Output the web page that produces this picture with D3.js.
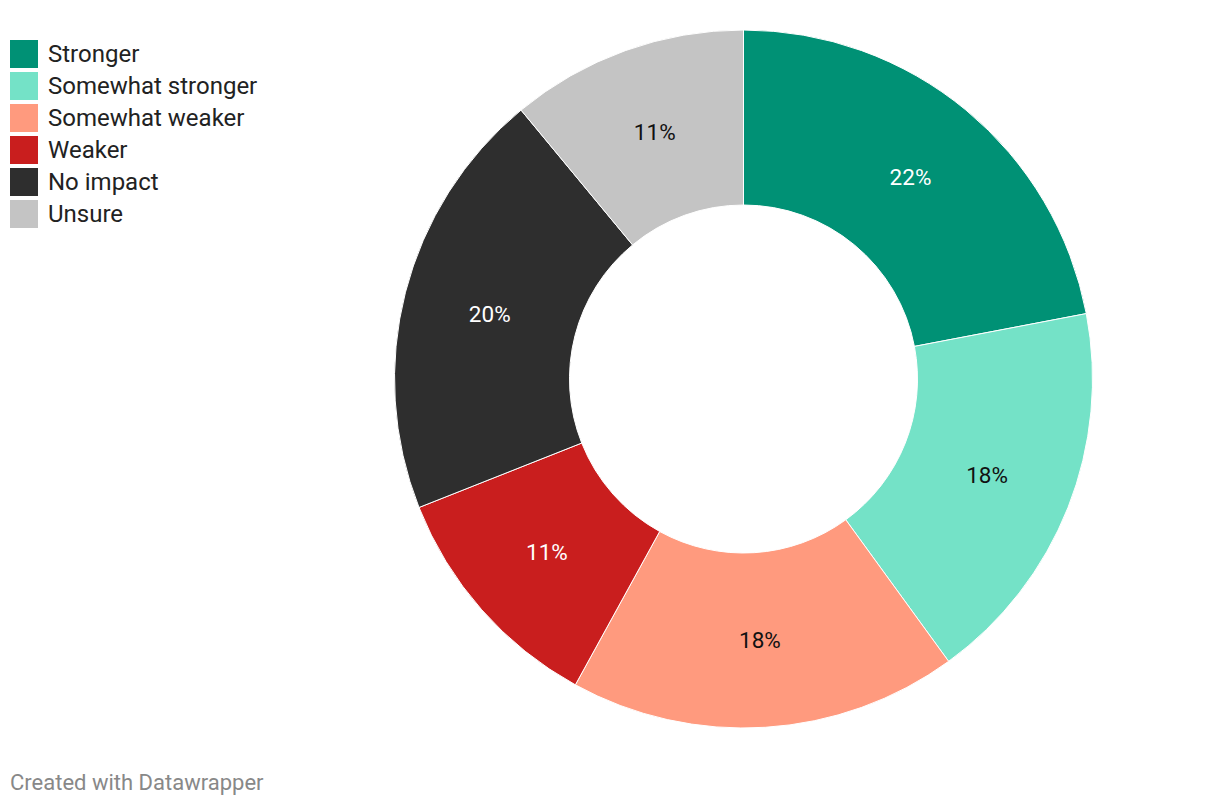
<!DOCTYPE html>
<html><head><meta charset="utf-8">
<script src="https://cdn.jsdelivr.net/npm/d3@7"></script>
<style>body{margin:0;background:#fff;font-family:Roboto,sans-serif;}</style>
</head><body>
<svg id="chart" width="1220" height="806"></svg>
<script>
const categories = ["Stronger","Somewhat stronger","Somewhat weaker","Weaker","No impact","Unsure"];
const values = [22,18,18,11,20,11];
const colors = ["#009175","#74e2c7","#ff9a7e","#c91e1e","#2e2e2e","#c4c4c4"];
const labelColors = ["#fff","#111","#111","#fff","#fff","#111"];

const svg = d3.select("#chart");
const cx = 743.5, cy = 379, rOuter = 349, rInner = 174;
const data = categories.map((c,i)=>({cat:c, value:values[i], i}));
const pie = d3.pie().value(d=>d.value).sort(null);
const arc = d3.arc().innerRadius(rInner).outerRadius(rOuter);
const labelArc = d3.arc().innerRadius(262).outerRadius(262);
const g = svg.append("g").attr("transform",`translate(${cx},${cy})`);
const arcs = pie(data);
g.selectAll("path").data(arcs).join("path")
  .attr("d",arc).attr("fill",d=>colors[d.data.i])
  .attr("stroke","#fff").attr("stroke-width",1);
g.selectAll("text").data(arcs).join("text")
  .attr("transform",d=>`translate(${labelArc.centroid(d)})`)
  .attr("text-anchor","middle").attr("dy","0.35em")
  .attr("font-size",22.5).attr("fill",d=>labelColors[d.data.i])
  .text(d=>d.data.value+"%");

const leg = svg.append("g");
const rows = leg.selectAll("g").data(categories).join("g")
  .attr("transform",(d,i)=>`translate(10,${40+i*32})`);
rows.append("rect").attr("width",28).attr("height",28).attr("fill",(d,i)=>colors[i]);
rows.append("text").attr("x",38).attr("y",14).attr("dy","0.35em")
  .attr("font-size",24).attr("fill","#222").text(d=>d);

svg.append("text").attr("x",10).attr("y",790).attr("font-size",22)
  .attr("fill","#888").text("Created with Datawrapper");
</script>
</body></html>
